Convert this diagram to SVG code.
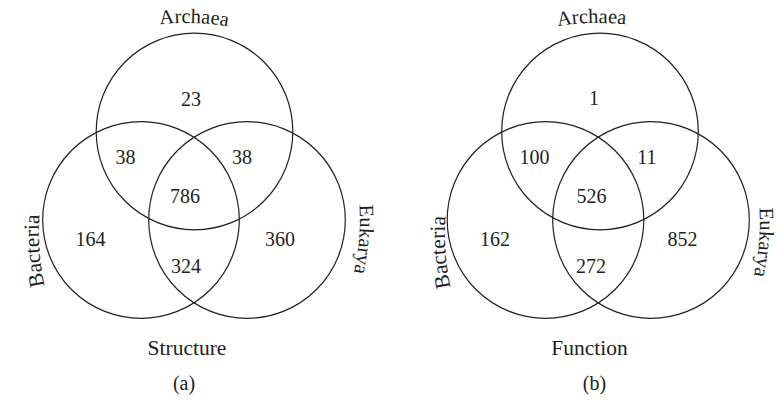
<svg xmlns="http://www.w3.org/2000/svg" xmlns:xlink="http://www.w3.org/1999/xlink" width="777" height="402" viewBox="0 0 777 402">
<style>
.c{fill:none;stroke:#231f20;stroke-width:1.2}
.t{font-family:"Liberation Serif","Times New Roman",serif;font-size:20px;fill:#231f20;text-anchor:middle}
.l{font-size:20.5px}
.w{font-size:21.5px}
</style>
<defs>
<path id="pA1" d="M138.84,27.5 A250,250 0 0 1 248.8,30.76"/>
<path id="pB1" d="M49.7,304.89 A250,250 0 0 1 41.52,195.19"/>
<path id="pE1" d="M357.38,183.68 A250,250 0 0 1 348.4,293.32"/>
<path id="pA2" d="M536.88,30.52 A250,250 0 0 1 646.84,27.74"/>
<path id="pB2" d="M455.7,306.39 A250,250 0 0 1 447.52,196.69"/>
<path id="pE2" d="M757.38,186.68 A250,250 0 0 1 748.4,296.32"/>
</defs>
<rect width="777" height="402" fill="#ffffff"/>
<g id="panel-a">
<g id="a-archaea"><circle class="c" cx="194.5" cy="131.5" r="98.3"/><text class="t l"><textPath xlink:href="#pA1" href="#pA1" startOffset="50%">Archaea</textPath></text></g>
<g id="a-bacteria"><circle class="c" cx="141" cy="220" r="98.3"/><text class="t w"><textPath xlink:href="#pB1" href="#pB1" startOffset="50%">Bacteria</textPath></text></g>
<g id="a-eukarya"><circle class="c" cx="247" cy="220" r="98.3"/><text class="t l"><textPath xlink:href="#pE1" href="#pE1" startOffset="50%">Eukarya</textPath></text></g>
<g id="a-counts">
<text class="t" x="191" y="106">23</text>
<text class="t" x="125.5" y="164">38</text>
<text class="t" x="242" y="164">38</text>
<text class="t" x="185" y="203">786</text>
<text class="t" x="90.5" y="246">164</text>
<text class="t" x="186" y="273">324</text>
<text class="t" x="280" y="246">360</text>
</g>
<text class="t w" x="187" y="355">Structure</text>
<text class="t" x="184" y="390">(a)</text>
</g>
<g id="panel-b">
<g id="b-archaea"><circle class="c" cx="600" cy="131.5" r="98.3"/><text class="t l"><textPath xlink:href="#pA2" href="#pA2" startOffset="50%">Archaea</textPath></text></g>
<g id="b-bacteria"><circle class="c" cx="545.5" cy="220" r="98.3"/><text class="t w"><textPath xlink:href="#pB2" href="#pB2" startOffset="50%">Bacteria</textPath></text></g>
<g id="b-eukarya"><circle class="c" cx="651" cy="220" r="98.3"/><text class="t l"><textPath xlink:href="#pE2" href="#pE2" startOffset="50%">Eukarya</textPath></text></g>
<g id="b-counts">
<text class="t" x="594" y="105">1</text>
<text class="t" x="534.5" y="164">100</text>
<text class="t" x="647" y="164">11</text>
<text class="t" x="591.5" y="203">526</text>
<text class="t" x="495" y="246">162</text>
<text class="t" x="591" y="273">272</text>
<text class="t" x="682.5" y="246">852</text>
</g>
<text class="t w" x="589.5" y="355">Function</text>
<text class="t" x="594.5" y="390">(b)</text>
</g>
</svg>
